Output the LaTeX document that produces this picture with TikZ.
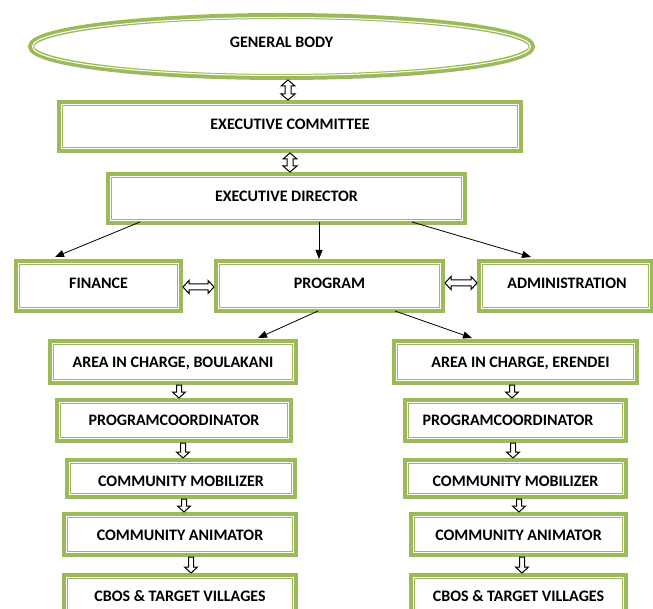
\documentclass[tikz,border=0pt]{standalone}
\usepackage{fontspec}
\setmainfont{Carlito}
\usetikzlibrary{arrows.meta,shapes.geometric,calc}
\definecolor{grn}{HTML}{9BBB59}
% block-arrow connectors between two named points
\newcommand\vdbl[2]{\draw[blk] let \p1=(#1), \p2=(#2) in
  (\x1,\y1) -- ++(7pt,-6pt) -- ++(-4pt,0pt) -- (\x1+3pt,\y2+6pt) -- ++(4pt,0pt) -- (\x1,\y2)
  -- ++(-7pt,6pt) -- ++(4pt,0pt) -- (\x1-3pt,\y1-6pt) -- ++(-4pt,0pt) -- cycle;}
\newcommand\hdbl[2]{\draw[blk] let \p1=(#1), \p2=(#2) in
  (\x1,\y1) -- ++(6pt,6.5pt) -- ++(0pt,-3.5pt) -- (\x2-6pt,\y1+3pt) -- ++(0pt,3.5pt) -- (\x2,\y1)
  -- ++(-6pt,-6.5pt) -- ++(0pt,3.5pt) -- (\x1+6pt,\y1-3pt) -- ++(0pt,-3.5pt) -- cycle;}
\newcommand\vdown[2]{\draw[blk] let \p1=(#1), \p2=(#2) in
  (\x1-2.5pt,\y1) -- (\x1+2.5pt,\y1) -- (\x1+2.5pt,\y2+6pt) -- ++(4pt,0pt) -- (\x1,\y2)
  -- ++(-6.5pt,6pt) -- ++(4pt,0pt) -- cycle;}
\begin{document}
\begin{tikzpicture}[x=1pt,y=-1pt,
  box/.style={draw=grn, line width=6pt, fill=white, inner sep=0pt, text=black,
    text height=10.3pt, text depth=0pt, font=\fontsize{16}{18}\selectfont\bfseries},
  inline/.style={draw=white, line width=1pt},
  conn/.style={draw=black, line width=0.8pt, -{Triangle[length=9pt,width=7pt]}},
  blk/.style={draw=black, fill=white, line width=1pt, line join=miter}]
\useasboundingbox (0,0) rectangle (653,609);
% top
\node[box, ellipse, minimum width=501pt, minimum height=61pt, text depth=9pt] (gb) at (281.5,46.5) {GENERAL BODY};
\node[box, minimum width=460pt, minimum height=47pt, text depth=5pt] (ec) at (290,126.5) {EXECUTIVE COMMITTEE};
\node[box, minimum width=355pt, minimum height=47pt, text depth=5pt] (ed) at (286.5,198.5) {EXECUTIVE DIRECTOR};
% middle row
\node[box, minimum width=163pt, minimum height=48pt, text depth=6pt] (fin) at (98.5,286) {FINANCE};
\node[box, minimum width=225pt, minimum height=48pt, text depth=6pt] (prog) at (329.5,286) {PROGRAM};
\node[box, minimum width=171pt, minimum height=48pt, text depth=6pt] (adm) at (565.5,286) {\kern3pt ADMINISTRATION};
% left column
\node[box, minimum width=244pt, minimum height=40pt] (ab) at (173,362) {AREA IN CHARGE, BOULAKANI};
\node[box, minimum width=232pt, minimum height=39pt] (pcl) at (174,420.5) {PROGRAMCOORDINATOR};
\node[box, minimum width=226pt, minimum height=35pt, text height=15.3pt] (cml) at (181,478.5) {COMMUNITY MOBILIZER};
\node[box, minimum width=230pt, minimum height=39pt, text height=12.3pt] (cal) at (180,534.5) {COMMUNITY ANIMATOR};
\node[box, minimum width=230pt, minimum height=39pt, text height=12.3pt] (cbl) at (180,595.5) {CBOS \& TARGET VILLAGES};
% right column
\node[box, minimum width=241pt, minimum height=40pt] (ae) at (515.5,362) {\kern10pt AREA IN CHARGE, ERENDEI};
\node[box, minimum width=219pt, minimum height=39pt] (pcr) at (515.5,420.5) {PROGRAMCOORDINATOR\kern15pt};
\node[box, minimum width=219pt, minimum height=35pt, text height=15.3pt] (cmr) at (515.5,478.5) {COMMUNITY MOBILIZER};
\node[box, minimum width=213pt, minimum height=39pt, text height=12.3pt] (car) at (518.5,534.5) {COMMUNITY ANIMATOR};
\node[box, minimum width=213pt, minimum height=39pt, text height=12.3pt] (cbr) at (518.5,595.5) {CBOS \& TARGET VILLAGES};
% inner white lines
\draw[inline] (gb.center) ellipse [x radius=249pt, y radius=29pt];
\foreach \n in {ec,ed,fin,prog,adm,ab,pcl,cml,cal,cbl,ae,pcr,cmr,car,cbr}
  \draw[inline] ([shift={(4.5pt,-4.5pt)}]\n.north west) rectangle ([shift={(-4.5pt,4.5pt)}]\n.south east);
% double block arrows
\vdbl{[xshift=6.5pt]gb.south}{[xshift=-2pt]ec.north}
\vdbl{ec.south}{[xshift=3.5pt]ed.north}
\hdbl{[yshift=-1pt]fin.east}{[yshift=-1pt]prog.west}
\hdbl{[yshift=3pt]prog.east}{[yshift=3pt]adm.west}
% thin arrows
\draw[conn] ([shift={(34pt,3pt)}]ed.south west) -- ([shift={(-43.5pt,2pt)}]fin.north);
\draw[conn] ([shift={(32.5pt,3pt)}]ed.south) -- ([shift={(-10.5pt,0pt)}]prog.north);
\draw[conn] ([shift={(-55pt,3pt)}]ed.south east) -- ([shift={(-34.5pt,2pt)}]adm.north);
\draw[conn] ([shift={(-11.5pt,2pt)}]prog.south) -- ([shift={(85pt,1pt)}]ab.north);
\draw[conn] ([shift={(65.5pt,2pt)}]prog.south) -- ([shift={(-43.5pt,1pt)}]ae.north);
% down block arrows left
\vdown{[xshift=6pt]ab.south}{[xshift=6pt]pcl.north}
\vdown{[xshift=9pt]pcl.south}{[xshift=9pt]pcl.south |- cml.north}
\vdown{[xshift=3pt]cml.south}{[xshift=3pt]cml.south |- cal.north}
\vdown{[xshift=11pt]cal.south}{[xshift=11pt]cbl.north}
% down block arrows right
\vdown{[xshift=-3.5pt]ae.south}{[xshift=-3.5pt]pcr.north}
\vdown{[xshift=-2.5pt]pcr.south}{[xshift=-2.5pt]cmr.north}
\vdown{[xshift=3.5pt]cmr.south}{[xshift=3.5pt]cmr.south |- car.north}
\vdown{[xshift=3.5pt]car.south}{[xshift=3.5pt]cbr.north}
\end{tikzpicture}
\end{document}
